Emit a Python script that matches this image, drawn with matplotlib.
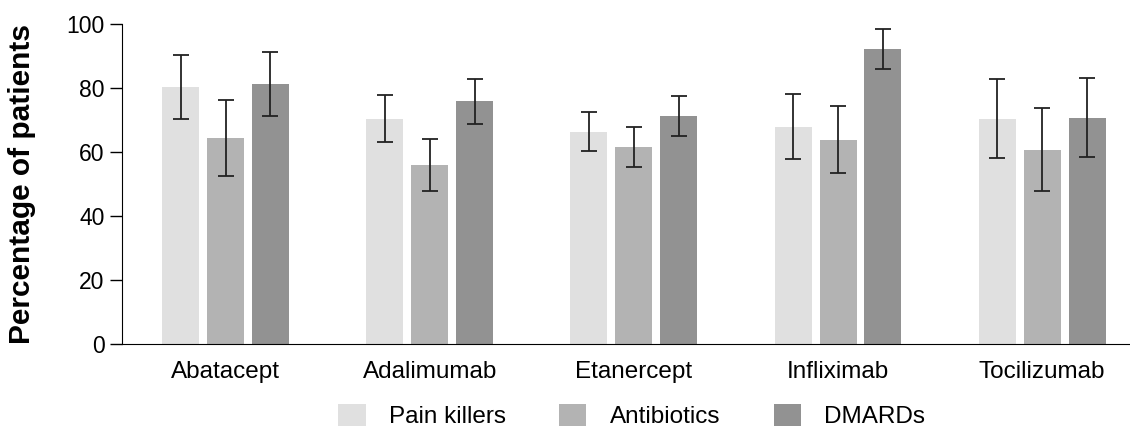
import numpy as np
import matplotlib
matplotlib.use("Agg")
import matplotlib.pyplot as plt

plt.rcParams['font.family'] = ['Liberation Sans', 'DejaVu Sans']

drugs = ["Abatacept", "Adalimumab", "Etanercept", "Infliximab", "Tocilizumab"]
series = ["Pain killers", "Antibiotics", "DMARDs"]
colors = ["#e0e0e0", "#b3b3b3", "#929292"]

pain = [80.5, 70.5, 66.5, 68, 70.5]
pain_err = [10, 7.3, 6, 10.2, 12.3]
antibio = [64.5, 56, 61.7, 64, 60.8]
antibio_err = [12, 8.2, 6.2, 10.5, 13]
dmards = [81.3, 76, 71.3, 92.3, 70.8]
dmards_err = [10, 7, 6.2, 6.2, 12.3]

vals = [pain, antibio, dmards]
errs = [pain_err, antibio_err, dmards_err]

fig = plt.figure(figsize=(11.3, 4.29), dpi=100)
ax = fig.add_axes([0.108, 0.198, 0.892, 0.745])

x = np.arange(len(drugs))
offsets = [-0.22, 0, 0.22]
for i in range(3):
    ax.bar(x + offsets[i], vals[i], width=0.181, color=colors[i], label=series[i],
           yerr=errs[i], capsize=5.5,
           error_kw=dict(ecolor="#222222", elinewidth=1.3, capthick=1.3))

ax.set_xlim(-0.507, 4.43)
ax.set_ylim(0, 100)
ax.set_yticks([0, 20, 40, 60, 80, 100])
ax.set_xticks(x)
ax.set_xticklabels(drugs, fontsize=17.5)
ax.tick_params(axis='x', length=0, pad=12)
ax.tick_params(axis='y', labelsize=16.5, length=9, width=1, pad=3.5)
ax.spines['top'].set_visible(False)
ax.spines['right'].set_visible(False)
ax.set_ylabel("Percentage of patients", fontsize=21.5, fontweight='bold')
ax.yaxis.set_label_coords(-0.085, 0.5)

fig.legend(loc='center', bbox_to_anchor=(0.559, 0.03), ncol=3, frameon=False,
           fontsize=17.5, handlelength=1.12, handleheight=1.0, handletextpad=0.95,
           columnspacing=2.2)

fig.savefig("out.png", dpi=100)
